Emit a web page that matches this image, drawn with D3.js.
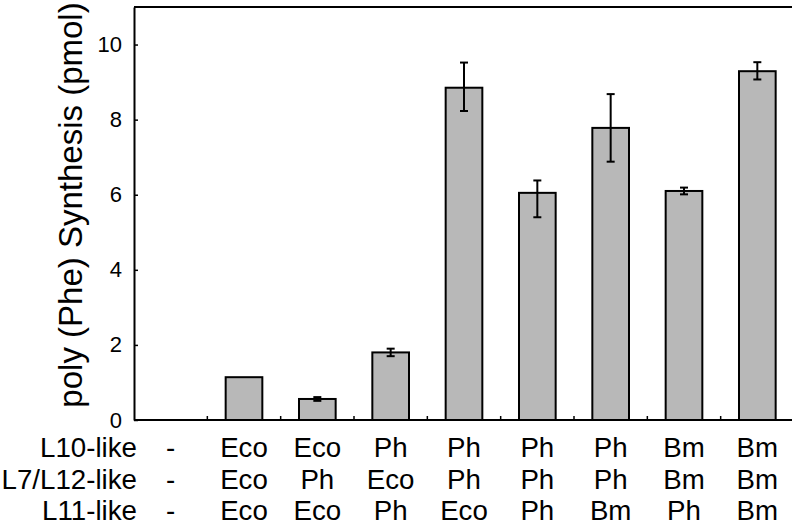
<!DOCTYPE html>
<html>
<head>
<meta charset="utf-8">
<script src="https://cdn.jsdelivr.net/npm/d3@7"></script>
<style>
  body { margin: 0; background: #fff; }
  text { font-family: "Liberation Sans", Arial, Helvetica, sans-serif; fill: #000; }
</style>
</head>
<body>
<svg id="chart" width="792" height="532"></svg>
<script>
// values
const categories = [0, 1, 2, 3, 4, 5, 6, 7, 8];
const synthesis = [0, 1.14, 0.56, 1.80, 8.85, 6.05, 7.78, 6.10, 9.29];
const errUp =     [0, 0,    0.05, 0.10, 0.67, 0.33, 0.90, 0.09, 0.24];
const errDown =   [0, 0,    0.05, 0.10, 0.62, 0.65, 0.90, 0.09, 0.22];
const yTicks = [0, 2, 4, 6, 8, 10];

const rowNames = ["L10-like", "L7/L12-like", "L11-like"];
const l10 = ["-", "Eco", "Eco", "Ph", "Ph", "Ph", "Ph", "Bm", "Bm"];
const l7 = ["-", "Eco", "Ph", "Eco", "Ph", "Ph", "Ph", "Bm", "Bm"];
const l11 = ["-", "Eco", "Eco", "Ph", "Eco", "Ph", "Bm", "Ph", "Bm"];

const margin = { top: 7, left: 134, bottom: 112 },
    width = 660,
    height = 532 - margin.top - margin.bottom;

const svg = d3.select("#chart")
    .append("g")
    .attr("transform", `translate(${margin.left},${margin.top})`);

// X scale
const x = d3.scaleBand()
    .domain(categories)
    .range([0, width])
    .paddingInner(0.5)
    .paddingOuter(0.25);

// Y scale
const y = d3.scaleLinear()
    .domain([0, 11])
    .range([height, 0]);

// frame: top line
svg.append("line")
    .attr("x1", 0).attr("x2", width)
    .attr("y1", y(11)).attr("y2", y(11))
    .attr("stroke", "#000").attr("stroke-width", 2);

// y axis with inward ticks
const yAxis = svg.append("g")
    .call(d3.axisLeft(y).tickValues(yTicks).tickSizeInner(-4).tickSizeOuter(0).tickPadding(12));
yAxis.select(".domain").attr("stroke-width", 2);
yAxis.selectAll(".tick line").attr("stroke-width", 1.5);
yAxis.selectAll(".tick text")
    .style("font-size", "22px")
    .style("font-family", "'Liberation Sans', Arial, sans-serif");

// x axis line
svg.append("line")
    .attr("x1", 0).attr("x2", width)
    .attr("y1", height).attr("y2", height)
    .attr("stroke", "#000").attr("stroke-width", 2);

// small upward ticks between categories
svg.selectAll(".xtick")
    .data(categories.slice(1))
    .join("line")
    .attr("class", "xtick")
    .attr("x1", d => x(d) - x.step() * 0.25)
    .attr("x2", d => x(d) - x.step() * 0.25)
    .attr("y1", height)
    .attr("y2", height - 4)
    .attr("stroke", "#000")
    .attr("stroke-width", 1.5);

// bars
const bars = categories.filter(i => synthesis[i] > 0);
svg.selectAll(".bar")
    .data(bars)
    .join("rect")
    .attr("class", "bar")
    .attr("x", d => x(d))
    .attr("y", d => y(synthesis[d]))
    .attr("width", x.bandwidth())
    .attr("height", d => y(0) - y(synthesis[d]))
    .attr("fill", "#b8b8b8")
    .attr("stroke", "#000")
    .attr("stroke-width", 2);

// error bars
const withErr = bars.filter(i => errUp[i] > 0 || errDown[i] > 0);
const cx = d => x(d) + x.bandwidth() / 2;
svg.selectAll(".err")
    .data(withErr)
    .join("line")
    .attr("class", "err")
    .attr("x1", cx).attr("x2", cx)
    .attr("y1", d => y(synthesis[d] + errUp[d]))
    .attr("y2", d => y(synthesis[d] - errDown[d]))
    .attr("stroke", "#000").attr("stroke-width", 2);

svg.selectAll(".capTop")
    .data(withErr)
    .join("line")
    .attr("class", "capTop")
    .attr("x1", d => cx(d) - 4).attr("x2", d => cx(d) + 4)
    .attr("y1", d => y(synthesis[d] + errUp[d]))
    .attr("y2", d => y(synthesis[d] + errUp[d]))
    .attr("stroke", "#000").attr("stroke-width", 2);

svg.selectAll(".capBottom")
    .data(withErr)
    .join("line")
    .attr("class", "capBottom")
    .attr("x1", d => cx(d) - 4).attr("x2", d => cx(d) + 4)
    .attr("y1", d => y(synthesis[d] - errDown[d]))
    .attr("y2", d => y(synthesis[d] - errDown[d]))
    .attr("stroke", "#000").attr("stroke-width", 2);

// category table under the axis
const rows = [l10, l7, l11];
rows.forEach((row, r) => {
    const base = height + 37 + r * 31.5;
    svg.append("text")
        .attr("x", 3)
        .attr("y", base)
        .attr("text-anchor", "end")
        .style("font-size", "27.7px")
        .text(rowNames[r]);

    svg.selectAll(".row" + r)
        .data(categories)
        .join("text")
        .attr("class", "row" + r)
        .attr("x", d => x(d) + x.bandwidth() / 2)
        .attr("y", base)
        .attr("text-anchor", "middle")
        .style("font-size", "27.7px")
        .text(d => row[d]);
});

// y label
svg.append("text")
    .attr("text-anchor", "middle")
    .attr("transform", `translate(${81.5 - margin.left},${205 - margin.top}) rotate(-90)`)
    .style("font-size", "33px")
    .text("poly (Phe) Synthesis (pmol)");
</script>
</body>
</html>
